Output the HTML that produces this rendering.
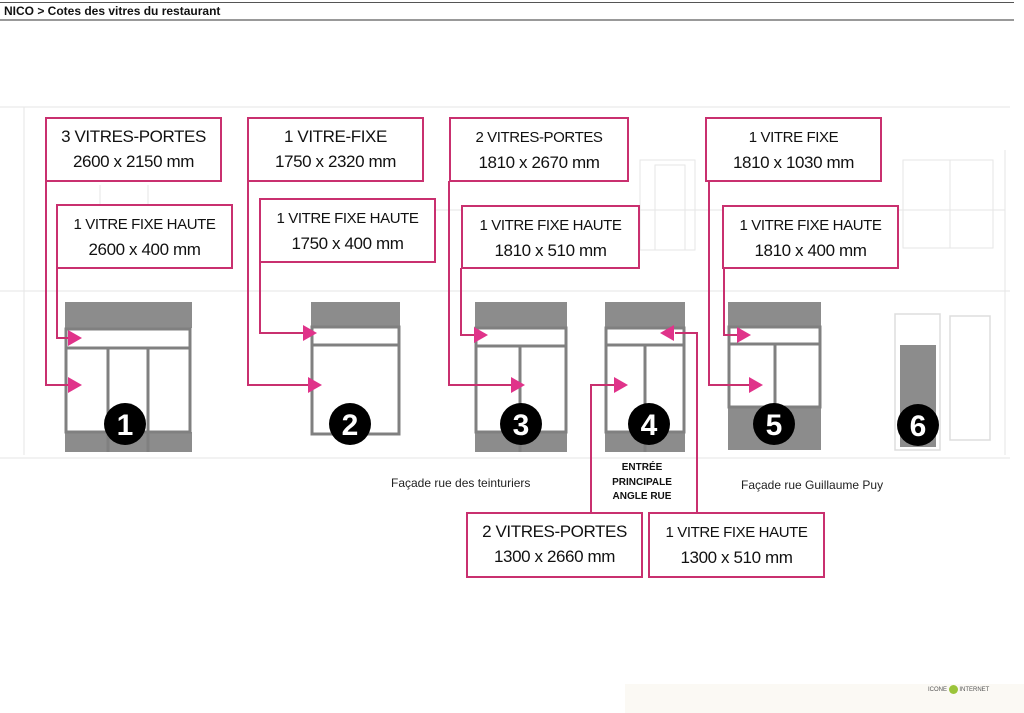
<!DOCTYPE html>
<html><head><meta charset="utf-8"><style>
body{margin:0;width:1024px;height:713px;background:#fff;overflow:hidden;position:relative;font-family:"Liberation Sans",sans-serif}
.b{position:absolute;border:2px solid #c9306f;background:#fff;box-sizing:border-box;text-align:center;color:#111;font-size:17px;line-height:25px;letter-spacing:-0.4px;padding-top:5px}
.b .s{font-size:15px}
.t{position:absolute;font-size:12px;color:#222}
</style></head><body>
<div style="position:absolute;left:0;top:2px;width:1014px;border-top:1px solid #555"></div>
<div style="position:absolute;left:4px;top:4px;font-size:12px;font-weight:bold;color:#111">NICO &gt; Cotes des vitres du restaurant</div>
<div style="position:absolute;left:0;top:19px;width:1014px;border-top:2px solid #999"></div>
<div style="position:absolute;left:625px;top:684px;width:399px;height:29px;background:#fbf9f4"></div>
<div style="position:absolute;left:928px;top:685px;font-size:6px;color:#555">ICONE <span style="display:inline-block;width:9px;height:9px;border-radius:50%;background:#9bc43a;vertical-align:middle"></span> INTERNET</div>
<svg width="1024" height="713" style="position:absolute;left:0;top:0">
<g stroke="#e6e6e6" fill="none" stroke-width="1">
<line x1="0" y1="107" x2="1010" y2="107"/><line x1="0" y1="291" x2="1010" y2="291"/><line x1="0" y1="458" x2="1010" y2="458"/>
<line x1="24" y1="107" x2="24" y2="455"/><line x1="1005" y1="150" x2="1005" y2="455"/>
<rect x="640" y="160" width="55" height="90"/><rect x="655" y="165" width="30" height="85"/>
<rect x="903" y="160" width="90" height="88"/><line x1="950" y1="160" x2="950" y2="248"/>
<line x1="430" y1="210" x2="1005" y2="210"/><line x1="100" y1="185" x2="100" y2="205"/><line x1="148" y1="185" x2="148" y2="205"/>
</g>
<g fill="#8c8c8c">
<rect x="65" y="302" width="127" height="26"/><rect x="65" y="432" width="127" height="20"/>
<rect x="311" y="302" width="89" height="25"/>
<rect x="475" y="302" width="92" height="26"/><rect x="475" y="432" width="92" height="20"/>
<rect x="605" y="302" width="80" height="26"/><rect x="605" y="432" width="80" height="20"/>
<rect x="728" y="302" width="93" height="26"/><rect x="728" y="406" width="93" height="44"/>
<rect x="900" y="345" width="36" height="102"/>
</g>
<g stroke="#808080" stroke-width="3" fill="none">
<rect x="66" y="329" width="124" height="103"/><line x1="66" y1="348" x2="190" y2="348"/><line x1="108" y1="348" x2="108" y2="452"/><line x1="148" y1="348" x2="148" y2="452"/>
<rect x="312" y="327" width="87" height="107"/><line x1="312" y1="345" x2="399" y2="345"/>
<rect x="476" y="328" width="90" height="104"/><line x1="476" y1="346" x2="566" y2="346"/><line x1="520" y1="346" x2="520" y2="452"/>
<rect x="606" y="328" width="78" height="104"/><line x1="606" y1="345" x2="684" y2="345"/><line x1="645" y1="345" x2="645" y2="452"/>
<rect x="729" y="327" width="91" height="80"/><line x1="729" y1="344" x2="820" y2="344"/><line x1="775" y1="344" x2="775" y2="406"/>
</g>
<g stroke="#ddd" fill="none" stroke-width="1.5"><rect x="895" y="314" width="45" height="136"/><rect x="950" y="316" width="40" height="124"/></g>
<g stroke="#c9306f" stroke-width="2" fill="none">
<polyline points="46,181 46,385 70,385"/><polyline points="57,268 57,338 70,338"/>
<polyline points="248,181 248,385 310,385"/><polyline points="260,262 260,333 305,333"/>
<polyline points="449,181 449,385 512,385"/><polyline points="461,268 461,335 475,335"/>
<polyline points="591,515 591,385 615,385"/><polyline points="697,515 697,333 675,333"/>
<polyline points="709,181 709,385 750,385"/><polyline points="724,268 724,335 738,335"/>
</g>
<g fill="#e0338a">
<polygon points="68,377 82,385 68,393"/><polygon points="68,330 82,338 68,346"/>
<polygon points="308,377 322,385 308,393"/><polygon points="303,325 317,333 303,341"/>
<polygon points="511,377 525,385 511,393"/><polygon points="474,327 488,335 474,343"/>
<polygon points="614,377 628,385 614,393"/><polygon points="674,325 660,333 674,341"/>
<polygon points="749,377 763,385 749,393"/><polygon points="737,327 751,335 737,343"/>
</g>
<g fill="#000"><circle cx="125" cy="424" r="21"/><circle cx="350" cy="424" r="21"/><circle cx="521" cy="424" r="21"/><circle cx="649" cy="424" r="21"/><circle cx="774" cy="424" r="21"/><circle cx="918" cy="425" r="21"/></g>
<g fill="#fff" font-family="Liberation Sans" font-weight="bold" font-size="30" text-anchor="middle">
<text x="125" y="435">1</text><text x="350" y="435">2</text><text x="521" y="435">3</text><text x="649" y="435">4</text><text x="774" y="435">5</text><text x="918" y="436">6</text></g>
</svg>
<div class="b" style="left:45px;top:117px;width:177px;height:65px">3 VITRES-PORTES<br>2600 x 2150 mm</div>
<div class="b" style="left:56px;top:204px;width:177px;height:65px"><span class="s">1 VITRE FIXE HAUTE</span><br>2600 x 400 mm</div>
<div class="b" style="left:247px;top:117px;width:177px;height:65px">1 VITRE-FIXE<br>1750 x 2320 mm</div>
<div class="b" style="left:259px;top:198px;width:177px;height:65px"><span class="s">1 VITRE FIXE HAUTE</span><br>1750 x 400 mm</div>
<div class="b" style="left:449px;top:117px;width:180px;height:65px"><span class="s">2 VITRES-PORTES</span><br>1810 x 2670 mm</div>
<div class="b" style="left:461px;top:205px;width:179px;height:64px"><span class="s">1 VITRE FIXE HAUTE</span><br>1810 x 510 mm</div>
<div class="b" style="left:705px;top:117px;width:177px;height:65px"><span class="s">1 VITRE FIXE</span><br>1810 x 1030 mm</div>
<div class="b" style="left:722px;top:205px;width:177px;height:64px"><span class="s">1 VITRE FIXE HAUTE</span><br>1810 x 400 mm</div>
<div class="b" style="left:466px;top:512px;width:177px;height:66px">2 VITRES-PORTES<br>1300 x 2660 mm</div>
<div class="b" style="left:648px;top:512px;width:177px;height:66px"><span class="s">1 VITRE FIXE HAUTE</span><br>1300 x 510 mm</div>
<div class="t" style="left:391px;top:476px">Façade rue des teinturiers</div>
<div class="t" style="left:741px;top:478px">Façade rue Guillaume Puy</div>
<div style="position:absolute;left:592px;top:461px;width:100px;text-align:center;font-size:10px;font-weight:bold;line-height:14.5px;color:#111">ENTRÉE<br>PRINCIPALE<br>ANGLE RUE</div>
</body></html>
